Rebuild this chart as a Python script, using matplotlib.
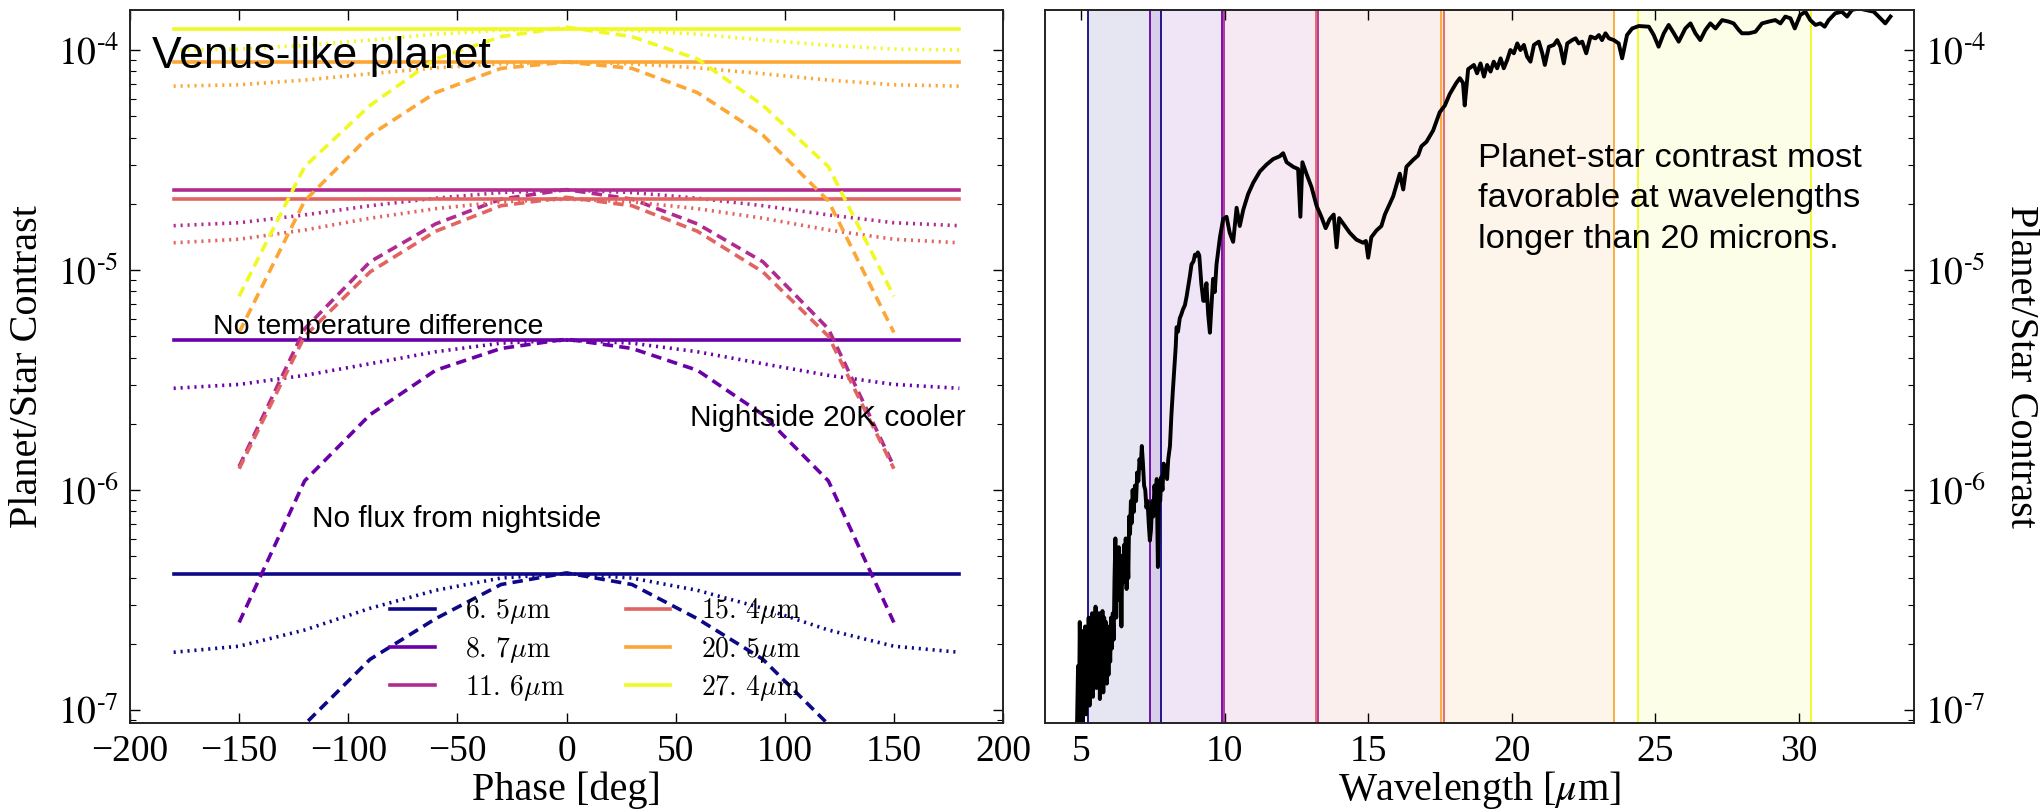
import numpy as np
import matplotlib
matplotlib.use("Agg")
import matplotlib.pyplot as plt
from matplotlib.ticker import LogLocator, FuncFormatter, NullFormatter
from matplotlib.font_manager import FontProperties

plt.rcParams.update({
    "font.family": "serif",
    "font.serif": ["Liberation Serif", "DejaVu Serif"],
    "mathtext.fontset": "stix",
    "xtick.direction": "in",
    "ytick.direction": "in",
    "xtick.top": True,
    "ytick.right": True,
    "lines.scale_dashes": False,
    "axes.linewidth": 1.4,
})

# ---------------------------------------------------------------- data
wavelengths = [6.5, 8.7, 11.6, 15.4, 20.5, 27.4]          # band centres [micron]
band_lo = [5.26, 7.41, 9.97, 13.18, 17.55, 24.40]          # band edges [micron]
band_hi = [7.78, 9.92, 13.25, 17.65, 23.55, 30.40]

phase_full = [-180, -150, -120, -90, -60, -30, 0, 30, 60, 90, 120, 150, 180]
phase_day = [-150, -120, -90, -60, -30, 0, 30, 60, 90, 120, 150]

# no temperature difference: flat phase curves
contrast_uniform = [4.17e-7, 4.80e-6, 2.31e-5, 2.10e-5, 8.82e-5, 1.245e-4]

# nightside 20 K cooler
cooler_6_5 = [1.83e-7, 1.95e-7, 2.31e-7, 2.90e-7, 3.50e-7, 3.98e-7, 4.17e-7,
              3.98e-7, 3.50e-7, 2.90e-7, 2.31e-7, 1.95e-7, 1.83e-7]
cooler_8_7 = [2.90e-6, 3.02e-6, 3.32e-6, 3.75e-6, 4.25e-6, 4.65e-6, 4.80e-6,
              4.65e-6, 4.25e-6, 3.75e-6, 3.32e-6, 3.02e-6, 2.90e-6]
cooler_11_6 = [1.59e-5, 1.64e-5, 1.78e-5, 1.96e-5, 2.12e-5, 2.25e-5, 2.31e-5,
               2.25e-5, 2.12e-5, 1.96e-5, 1.78e-5, 1.64e-5, 1.59e-5]
cooler_15_4 = [1.33e-5, 1.38e-5, 1.52e-5, 1.72e-5, 1.90e-5, 2.04e-5, 2.10e-5,
               2.04e-5, 1.90e-5, 1.72e-5, 1.52e-5, 1.38e-5, 1.33e-5]
cooler_20_5 = [6.85e-5, 6.95e-5, 7.30e-5, 7.80e-5, 8.30e-5, 8.65e-5, 8.82e-5,
               8.65e-5, 8.30e-5, 7.80e-5, 7.30e-5, 6.95e-5, 6.85e-5]
cooler_27_4 = [1.00e-4, 1.01e-4, 1.05e-4, 1.11e-4, 1.18e-4, 1.23e-4, 1.245e-4,
               1.23e-4, 1.18e-4, 1.11e-4, 1.05e-4, 1.01e-4, 1.00e-4]

# no flux from nightside
dark_6_5 = [1.9e-8, 8.6e-8, 1.70e-7, 2.60e-7, 3.72e-7, 4.20e-7,
            3.72e-7, 2.60e-7, 1.70e-7, 8.6e-8, 1.9e-8]
dark_8_7 = [2.50e-7, 1.10e-6, 2.20e-6, 3.50e-6, 4.40e-6, 4.85e-6,
            4.40e-6, 3.50e-6, 2.20e-6, 1.10e-6, 2.50e-7]
dark_11_6 = [1.28e-6, 5.40e-6, 1.09e-5, 1.62e-5, 2.10e-5, 2.32e-5,
             2.10e-5, 1.62e-5, 1.09e-5, 5.40e-6, 1.28e-6]
dark_15_4 = [1.25e-6, 5.00e-6, 9.80e-6, 1.50e-5, 1.96e-5, 2.14e-5,
             1.96e-5, 1.50e-5, 9.80e-6, 5.00e-6, 1.25e-6]
dark_20_5 = [5.20e-6, 2.06e-5, 4.10e-5, 6.40e-5, 8.25e-5, 8.82e-5,
             8.25e-5, 6.40e-5, 4.10e-5, 2.06e-5, 5.20e-6]
dark_27_4 = [7.60e-6, 2.95e-5, 5.60e-5, 9.10e-5, 1.15e-4, 1.27e-4,
             1.15e-4, 9.10e-5, 5.60e-5, 2.95e-5, 7.60e-6]

cooler_curves = [cooler_6_5, cooler_8_7, cooler_11_6, cooler_15_4, cooler_20_5, cooler_27_4]
dark_curves = [dark_6_5, dark_8_7, dark_11_6, dark_15_4, dark_20_5, dark_27_4]

# emission spectrum (planet/star contrast, log10)
spec_wavelength = [
    4.86, 4.90, 4.93, 4.96, 5.00, 5.03, 5.06, 5.09, 5.12, 5.15, 5.18, 5.21, 5.24,
    5.27, 5.30, 5.33, 5.36, 5.39, 5.42, 5.45, 5.48, 5.51, 5.54, 5.57, 5.60, 5.63,
    5.66, 5.69, 5.72, 5.75, 5.78, 5.81, 5.84, 5.87, 5.90, 5.93, 5.96, 5.99, 6.02,
    6.05, 6.08, 6.11, 6.14, 6.17, 6.20, 6.23, 6.26, 6.29, 6.32, 6.35, 6.38, 6.41,
    6.44, 6.47, 6.50, 6.53, 6.56, 6.59, 6.62, 6.65, 6.68, 6.71, 6.74, 6.77, 6.80,
    6.84, 6.88, 6.92, 6.96, 7.00, 7.04, 7.08, 7.12, 7.16, 7.20, 7.24, 7.28, 7.32,
    7.36, 7.40, 7.44, 7.48, 7.52, 7.56, 7.60, 7.64, 7.68, 7.72, 7.76, 7.80, 7.84,
    7.88, 7.92, 7.96, 8.00, 8.04, 8.10, 8.15, 8.20, 8.27, 8.30, 8.33, 8.38, 8.44,
    8.50, 8.55, 8.62, 8.68, 8.73, 8.79, 8.85, 8.92, 8.97, 9.02, 9.07, 9.12, 9.19,
    9.26, 9.30, 9.37, 9.43, 9.49, 9.55, 9.60, 9.66, 9.72, 9.84, 9.95, 10.07, 10.18,
    10.30, 10.42, 10.53, 10.65, 10.82, 11.00, 11.23, 11.46, 11.69, 11.92, 12.04,
    12.16, 12.39, 12.56, 12.64, 12.71, 12.85, 13.03, 13.20, 13.37, 13.52, 13.66,
    13.80, 13.90, 13.99, 14.13, 14.36, 14.59, 14.82, 14.92, 15.00, 15.11, 15.29,
    15.46, 15.58, 15.87, 16.10, 16.22, 16.33, 16.56, 16.74, 16.85, 17.03, 17.26,
    17.49, 17.67, 17.84, 18.07, 18.19, 18.30, 18.36, 18.48, 18.68, 18.79, 18.91,
    19.03, 19.14, 19.26, 19.37, 19.49, 19.61, 19.72, 19.84, 19.95, 20.07, 20.19,
    20.30, 20.42, 20.53, 20.65, 20.77, 20.94, 21.06, 21.15, 21.29, 21.46, 21.58,
    21.69, 21.81, 21.93, 22.10, 22.22, 22.33, 22.45, 22.59, 22.74, 22.91, 23.03,
    23.14, 23.26, 23.38, 23.55, 23.72, 23.84, 24.01, 24.19, 24.42, 24.77, 24.94,
    25.11, 25.29, 25.46, 25.64, 25.81, 26.04, 26.22, 26.39, 26.56, 26.74, 26.91,
    27.09, 27.32, 27.55, 27.72, 27.90, 28.01, 28.25, 28.48, 28.71, 28.94, 29.17,
    29.35, 29.52, 29.70, 29.85, 30.04, 30.22, 30.39, 30.57, 30.74, 30.89, 31.03,
    31.26, 31.49, 31.67, 31.84, 32.07, 32.31, 32.60, 32.83, 33.00, 33.18,
]
spec_log10_contrast = [
    -7.10, -6.80, -7.08, -6.60, -6.95, -6.70, -7.06, -6.64, -6.92, -6.62, -7.02, -6.68, -6.88,
    -6.58, -6.98, -6.62, -6.86, -6.56, -6.94, -6.60, -6.80, -6.53, -6.90, -6.60, -6.84, -6.56,
    -6.95, -6.62, -6.82, -6.55, -6.92, -6.58, -6.80, -6.60, -6.88, -6.62, -6.84, -6.64, -6.78,
    -6.58, -6.72, -6.56, -6.68, -6.40, -6.22, -6.58, -6.35, -6.50, -6.26, -6.45, -6.30, -6.62,
    -6.30, -6.42, -6.25, -6.35, -6.22, -6.45, -6.25, -6.40, -6.12, -6.20, -6.05, -6.15, -6.00,
    -6.10, -5.98, -6.05, -5.92, -5.96, -5.86, -5.90, -5.80, -5.88, -5.98, -6.00, -6.08, -6.05,
    -6.15, -6.23, -6.18, -6.05, -6.12, -5.98, -6.05, -5.95, -6.35, -5.98, -6.05, -5.94, -6.00,
    -5.88, -5.92, -5.90, -5.95, -5.86, -5.80, -5.66, -5.55, -5.41, -5.35, -5.26, -5.28, -5.22,
    -5.20, -5.18, -5.16, -5.12, -5.08, -5.03, -4.975, -4.96, -4.93, -4.935, -4.92, -4.934, -5.06,
    -5.14, -5.14, -5.06, -5.20, -5.285, -5.15, -5.04, -5.10, -4.975, -4.851, -4.769, -4.758, -4.831,
    -4.872, -4.717, -4.800, -4.727, -4.655, -4.603, -4.552, -4.521, -4.496, -4.483, -4.469,
    -4.510, -4.531, -4.541, -4.758, -4.510, -4.562, -4.624, -4.707, -4.758, -4.810, -4.769,
    -4.748, -4.897, -4.764, -4.789, -4.831, -4.862, -4.876, -4.868, -4.944, -4.851, -4.820,
    -4.800, -4.748, -4.665, -4.562, -4.634, -4.531, -4.500, -4.479, -4.438, -4.417, -4.366,
    -4.283, -4.252, -4.200, -4.149, -4.128, -4.149, -4.252, -4.087, -4.068, -4.106, -4.061,
    -4.121, -4.068, -4.098, -4.053, -4.083, -4.038, -4.083, -4.045, -4.000, -4.015, -3.970,
    -4.000, -3.977, -4.030, -4.053, -3.977, -3.962, -4.015, -4.068, -3.985, -3.977, -3.955,
    -3.985, -4.061, -3.970, -3.955, -3.947, -3.970, -3.962, -4.015, -3.939, -3.947, -3.932,
    -3.955, -3.924, -3.947, -3.955, -3.970, -4.038, -3.932, -3.902, -3.891, -3.894, -3.932,
    -3.985, -3.924, -3.886, -3.924, -3.962, -3.902, -3.879, -3.924, -3.955, -3.909, -3.879,
    -3.902, -3.864, -3.871, -3.879, -3.909, -3.924, -3.924, -3.917, -3.879, -3.871, -3.864,
    -3.879, -3.848, -3.856, -3.902, -3.841, -3.826, -3.864, -3.886, -3.879, -3.894, -3.864,
    -3.833, -3.826, -3.848, -3.818, -3.811, -3.818, -3.826, -3.856, -3.879, -3.848,
]

phase_ticks = [-200, -150, -100, -50, 0, 50, 100, 150, 200]
wave_ticks = [5, 10, 15, 20, 25, 30]
y_limits = (8.73e-8, 1.52e-4)

# ---------------------------------------------------------------- figure
colors = plt.cm.plasma(np.linspace(0, 1, len(wavelengths)))
sans = "Liberation Sans"
tick_size = 27
label_size = 29

fig = plt.figure(figsize=(20.43, 8.10), dpi=100)
ax1 = fig.add_axes([130 / 2043, 87 / 810, 873 / 2043, 713 / 810])
ax2 = fig.add_axes([1045 / 2043, 87 / 810, 869 / 2043, 713 / 810])

solid_handles = []
for i, w in enumerate(wavelengths):
    c = colors[i]
    lab = r"$%s\mu\mathrm{m}$" % ("%.1f" % w).replace(".", r".\,")
    h, = ax1.plot(phase_full, np.full(len(phase_full), contrast_uniform[i]),
                  color=c, lw=2.6, label=lab)
    solid_handles.append(h)
    ax1.plot(phase_full, cooler_curves[i], color=c, lw=2.6, ls=(0, (1.5, 3.5)))
    ax1.plot(phase_day, dark_curves[i], color=c, lw=2.6, ls=(0, (7.5, 4.5)))


def sci_label(v, pos):
    e = int(round(np.log10(v)))
    return r"$10^{\text{-}%d}$" % (-e)


for ax in (ax1, ax2):
    ax.set_yscale("log")
    ax.set_ylim(*y_limits)
    ax.yaxis.set_major_locator(LogLocator(base=10))
    ax.yaxis.set_minor_locator(LogLocator(base=10, subs=np.arange(2, 10)))
    ax.yaxis.set_major_formatter(FuncFormatter(sci_label))
    ax.yaxis.set_minor_formatter(NullFormatter())
    ax.tick_params(which="major", length=7, width=1.0, labelsize=tick_size, pad=8)
    ax.tick_params(which="minor", length=4, width=0.8)
    for s in ax.spines.values():
        s.set_color("#222222")

ax1.set_xlim(-200, 200)
ax1.set_xticks(phase_ticks)
ax1.set_xlabel("Phase [deg]", fontsize=label_size, va="center")
ax1.xaxis.set_label_coords(0.5, -0.094)
ax1.set_ylabel("Planet/Star Contrast", fontsize=label_size, va="center", ha="center")
ax1.yaxis.set_label_coords(-0.117, 0.5)

ax1.legend(handles=solid_handles, ncol=2, frameon=False, loc="lower left",
           bbox_to_anchor=(0.298, 0.028), borderaxespad=0, borderpad=0,
           handlelength=1.6, handletextpad=1.1, columnspacing=2.2, labelspacing=0.3,
           prop=FontProperties(size=20, math_fontfamily="cm"))

ax1.text(0.025, 0.919, "Venus-like planet", transform=ax1.transAxes,
         fontsize=32, family=sans, va="baseline")
ax1.text(0.0947, 0.546, "No temperature difference", transform=ax1.transAxes,
         fontsize=20.5, family=sans, va="baseline")
ax1.text(0.209, 0.275, "No flux from nightside", transform=ax1.transAxes,
         fontsize=21.5, family=sans, va="baseline")
ax1.text(0.642, 0.4167, "Nightside 20K cooler", transform=ax1.transAxes,
         fontsize=21.5, family=sans, va="baseline")

# right panel: bands and spectrum
for i in range(len(wavelengths)):
    c = colors[i]
    ax2.axvspan(band_lo[i], band_hi[i], color=c, alpha=0.1, lw=0)
    ax2.axvline(band_lo[i], color=c, lw=1.3)
    ax2.axvline(band_hi[i], color=c, lw=1.3)

ax2.plot(spec_wavelength, 10.0 ** np.asarray(spec_log10_contrast), color="black", lw=2.8)
ax2.set_xlim(3.75, 34.0)
ax2.set_xticks(wave_ticks)
ax2.tick_params(axis="y", which="both", left=False, right=True,
                labelleft=False, labelright=True)
ax2.set_xlabel(r"Wavelength [$\mu$m]", fontsize=label_size, va="center")
ax2.xaxis.set_label_coords(0.5, -0.094)
ax2.yaxis.set_label_position("right")
ax2.set_ylabel("Planet/Star Contrast", fontsize=label_size, rotation=270,
               va="center", ha="center")
ax2.yaxis.set_label_coords(1.122, 0.5)

ax2.text(0.4986, 0.814,
         "Planet-star contrast most\nfavorable at wavelengths\nlonger than 20 microns.",
         transform=ax2.transAxes, fontsize=24.8, family=sans, va="top", linespacing=1.4)

fig.savefig("out.png", dpi=100)
